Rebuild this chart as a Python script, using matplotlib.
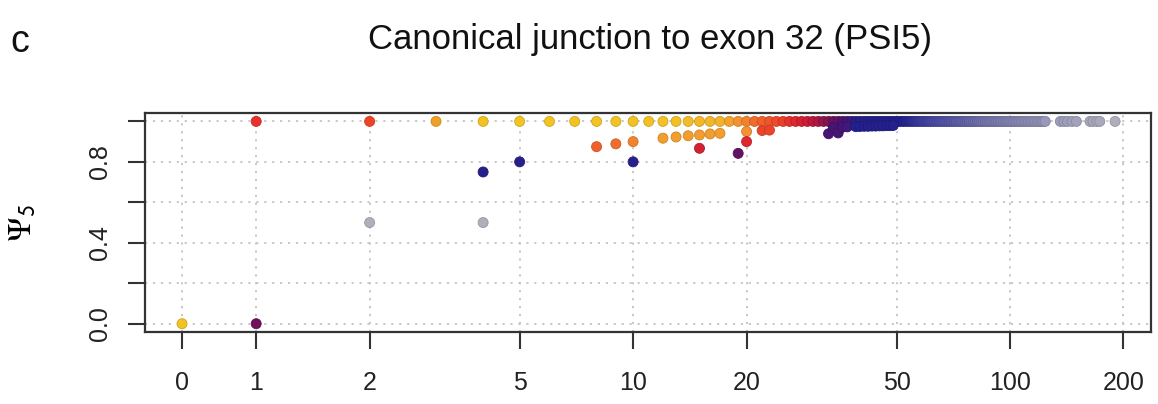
import numpy as np
import matplotlib
matplotlib.use("Agg")
import matplotlib.pyplot as plt
from matplotlib import font_manager
from matplotlib.colors import LinearSegmentedColormap, to_rgb

# ---------------- data ----------------
# junction coverage (x) of samples with PSI5 == 1
top_x = list(range(1, 125)) + [136, 139, 142, 146, 150, 163, 166, 170, 173, 190]
top_y = [1.0] * len(top_x)

# samples with PSI5 < 1 (coverage, PSI5, colour-coverage value)
out_x = [0, 1, 2, 4, 4, 5, 8, 9, 10, 10, 12, 13, 14, 15, 15, 16, 17, 19, 20, 20,
         22, 23, 33, 34, 35, 36, 37, 39, 40, 41, 42, 43, 44, 45, 46, 47, 48, 49]
out_y = [0.0, 0.0, 0.5, 0.75, 0.5, 0.8, 0.875, 0.889, 0.9, 0.8, 0.917, 0.923, 0.929,
         0.867, 0.933, 0.938, 0.941, 0.842, 0.95, 0.9, 0.955, 0.957, 0.939, 0.971,
         0.943, 0.972, 0.973, 0.974, 0.975, 0.976, 0.976, 0.977, 0.977, 0.978,
         0.978, 0.979, 0.979, 0.98]
out_c = [6, 34, 200, 45, 200, 40, 22, 21, 20, 42, 18.5, 18.5, 18.5, 28, 18.5, 18.5,
         18.5, 35, 19, 27, 24.5, 24.5, 37, 37, 37, 37, 38, 48, 48, 48, 48, 48, 48,
         48, 48, 48, 48, 48]

x_ticks = [0, 1, 2, 5, 10, 20, 50, 100, 200]
y_ticks = [0.0, 0.2, 0.4, 0.6, 0.8, 1.0]
y_tick_labels = ["0.0", "", "0.4", "", "0.8", ""]
title = "Canonical junction to exon 32 (PSI5)"
panel = "c"

# ---------------- style ----------------
names = {f.name for f in font_manager.fontManager.ttflist}
if "Liberation Sans Narrow" in names:
    FAM = ["Liberation Sans Narrow", "DejaVu Sans"]
    TICK_FS, TITLE_FS = 20, 30
else:
    FAM = ["Liberation Sans", "DejaVu Sans"]
    TICK_FS, TITLE_FS = 18, 25
plt.rcParams["font.family"] = FAM
plt.rcParams["mathtext.fontset"] = "stix"

anchors = [(1, '#e8302e'), (2, '#ee4426'), (3, '#f0a028'), (4, '#f2c420'),
           (12, '#f2c226'), (17, '#f2b22c'), (19, '#f29430'), (21, '#f0702c'),
           (24, '#ec4a2a'), (27, '#e0282e'), (30, '#c01838'), (33, '#801452'),
           (36, '#54106a'), (40, '#28208a'), (52, '#22208e'), (62, '#4646a4'),
           (85, '#7474b0'), (115, '#9494bc'), (200, '#b0b0bc')]
LMAX = np.log10(200)
cmap = LinearSegmentedColormap.from_list(
    "cov", [(np.log10(v) / LMAX, c) for v, c in anchors])


def colour(v):
    return cmap(np.clip(np.log10(max(v, 1)) / LMAX, 0, 1))


def darker(c, f=0.85):
    r, g, b = to_rgb(c)
    return (r * f, g * f, b * f)


fig = plt.figure(figsize=(11.58, 4.04), dpi=100)
ax = fig.add_axes([145 / 1158, 1 - 332 / 404, (1151 - 145) / 1158, (332 - 113) / 404])
ax.set_xscale("symlog", linthresh=1, linscale=0.177, base=10)
ax.set_xlim(-0.5, 236.6)
ax.set_ylim(-0.041, 1.0415)

grid_kw = dict(color="#c4c4c4", lw=1.3, ls=(0, (1.2, 3.2)), zorder=0)
for xt in x_ticks:
    ax.axvline(xt, **grid_kw)
for yt in y_ticks:
    ax.axhline(yt, **grid_kw)

S = 52
tc = [colour(v) for v in top_x]
ax.scatter(top_x, top_y, s=S, c=tc, edgecolors=[darker(c) for c in tc],
           linewidths=0.6, zorder=3)
oc = [colour(v) for v in out_c]
ax.scatter(out_x, out_y, s=S, c=oc, edgecolors=[darker(c) for c in oc],
           linewidths=0.6, zorder=4)

ax.set_xticks(x_ticks)
ax.set_xticklabels([str(t) for t in x_ticks])
ax.xaxis.set_minor_locator(matplotlib.ticker.NullLocator())
ax.set_yticks(y_ticks)
ax.set_yticklabels(y_tick_labels, rotation=90, va="center")
ax.tick_params(axis="both", length=12, width=1.5, color="#333333",
               labelsize=TICK_FS, labelcolor="#222222")
ax.tick_params(axis="x", pad=16)
ax.tick_params(axis="y", pad=12)
for sp in ax.spines.values():
    sp.set_linewidth(1.6)
    sp.set_color("#333333")

ax.set_ylabel(r"$\Psi_{\mathsf{5}}$", fontsize=24, rotation=90)
ax.yaxis.set_label_coords(-0.106, 0.5)

fig.text(650 / 1158, 1 - 40 / 404, title, ha="center", va="center",
         fontsize=TITLE_FS, color="#111111")
fig.text(10 / 1158, 1 - 42 / 404, panel, ha="left", va="center",
         fontsize=TITLE_FS + 2, color="#111111")

fig.savefig("out.png", dpi=100)
